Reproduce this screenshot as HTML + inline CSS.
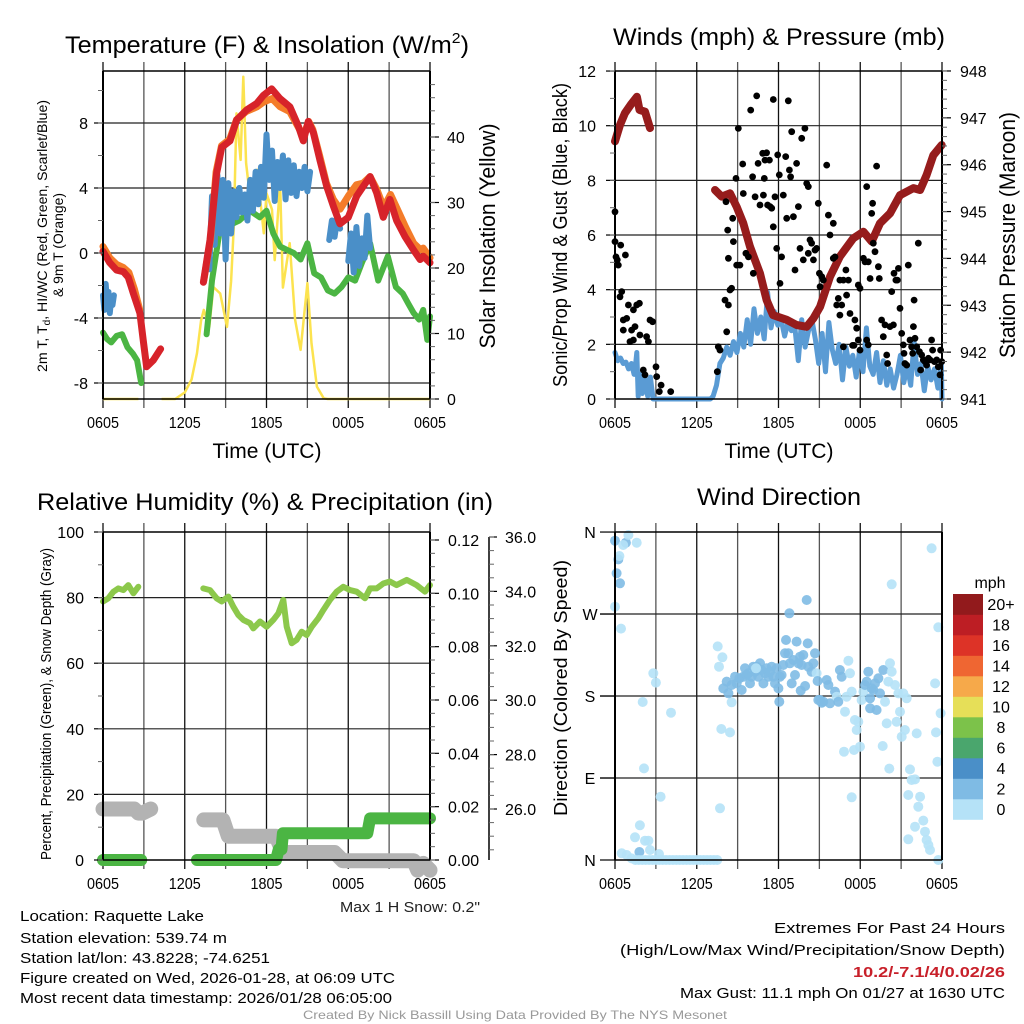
<!DOCTYPE html>
<html><head><meta charset="utf-8"><style>
html,body{margin:0;padding:0;background:#fff;}
svg{display:block;font-family:"Liberation Sans",sans-serif;}
</style></head><body>
<svg id="chart" width="1024" height="1024" viewBox="0 0 1024 1024" xmlns="http://www.w3.org/2000/svg">
<rect x="0" y="0" width="1024" height="1024" fill="#fff"/>
<g id="grids"></g>
<g id="marks"></g>
<g id="axes"></g>
<g id="texts" fill="#000">
<text x="267" y="53" font-size="24" text-anchor="middle" textLength="404" lengthAdjust="spacingAndGlyphs">Temperature (F) &amp; Insolation (W/m<tspan font-size="15" dy="-10">2</tspan><tspan dy="10">)</tspan></text>
<text x="779" y="45" font-size="24" text-anchor="middle" textLength="332" lengthAdjust="spacingAndGlyphs">Winds (mph) &amp; Pressure (mb)</text>
<text x="265" y="510" font-size="24" text-anchor="middle" textLength="456" lengthAdjust="spacingAndGlyphs">Relative Humidity (%) &amp; Precipitation (in)</text>
<text x="779" y="505" font-size="24" text-anchor="middle" textLength="164" lengthAdjust="spacingAndGlyphs">Wind Direction</text>
<text transform="translate(47,236) rotate(-90)" font-size="14" text-anchor="middle" textLength="272" lengthAdjust="spacingAndGlyphs">2m T, T<tspan font-size="10" dy="3">d</tspan><tspan dy="-3">, HI/WC (Red, Green, Scarlet/Blue)</tspan></text>
<text transform="translate(63,245) rotate(-90)" font-size="14" text-anchor="middle" textLength="104" lengthAdjust="spacingAndGlyphs">&amp; 9m T (Orange)</text>
<text transform="translate(495,236) rotate(-90)" font-size="22" text-anchor="middle" textLength="225" lengthAdjust="spacingAndGlyphs">Solar Insolation (Yellow)</text>
<text transform="translate(567,235) rotate(-90)" font-size="20" text-anchor="middle" textLength="304" lengthAdjust="spacingAndGlyphs">Sonic/Prop Wind &amp; Gust (Blue, Black)</text>
<text transform="translate(1015,235) rotate(-90)" font-size="22" text-anchor="middle" textLength="246" lengthAdjust="spacingAndGlyphs">Station Pressure (Maroon)</text>
<text transform="translate(51,704) rotate(-90)" font-size="15" text-anchor="middle" textLength="312" lengthAdjust="spacingAndGlyphs">Percent, Precipitation (Green), &amp; Snow Depth (Gray)</text>
<text transform="translate(567,688) rotate(-90)" font-size="18" text-anchor="middle" textLength="256" lengthAdjust="spacingAndGlyphs">Direction (Colored By Speed)</text>
<text x="267" y="458" font-size="21" text-anchor="middle" textLength="109" lengthAdjust="spacingAndGlyphs">Time (UTC)</text>
<text x="779" y="458" font-size="21" text-anchor="middle" textLength="109" lengthAdjust="spacingAndGlyphs">Time (UTC)</text>
<text x="480" y="912" font-size="15" text-anchor="end" textLength="140" lengthAdjust="spacingAndGlyphs" fill="#222">Max 1 H Snow: 0.2"</text>
<text x="20" y="921" font-size="15" textLength="184" lengthAdjust="spacingAndGlyphs">Location: Raquette Lake</text>
<text x="20" y="943" font-size="15" textLength="207" lengthAdjust="spacingAndGlyphs">Station elevation: 539.74 m</text>
<text x="20" y="963" font-size="15" textLength="250" lengthAdjust="spacingAndGlyphs">Station lat/lon: 43.8228; -74.6251</text>
<text x="20" y="983" font-size="15" textLength="375" lengthAdjust="spacingAndGlyphs">Figure created on Wed, 2026-01-28, at 06:09 UTC</text>
<text x="20" y="1003" font-size="15" textLength="372" lengthAdjust="spacingAndGlyphs">Most recent data timestamp: 2026/01/28 06:05:00</text>
<text x="1005" y="933" font-size="15" text-anchor="end" textLength="231" lengthAdjust="spacingAndGlyphs">Extremes For Past 24 Hours</text>
<text x="1005" y="955" font-size="15" text-anchor="end" textLength="385" lengthAdjust="spacingAndGlyphs">(High/Low/Max Wind/Precipitation/Snow Depth)</text>
<text x="1005" y="977" font-size="15" font-weight="bold" fill="#c8202a" text-anchor="end" textLength="152" lengthAdjust="spacingAndGlyphs">10.2/-7.1/4/0.02/26</text>
<text x="1005" y="998" font-size="15" text-anchor="end" textLength="325" lengthAdjust="spacingAndGlyphs">Max Gust: 11.1 mph On 01/27 at 1630 UTC</text>
<text x="515" y="1019" font-size="12" fill="#999" text-anchor="middle" textLength="424" lengthAdjust="spacingAndGlyphs">Created By Nick Bassill Using Data Provided By The NYS Mesonet</text>
<text x="990" y="588" font-size="16" text-anchor="middle">mph</text>
</g>
</svg>
<script>
// ---------- data ----------
const timeTickLabels = ["0605","1205","1805","0005","0605"];
const tempTicks = [-8,-4,0,4,8];
const solarTicks = [0,10,20,30,40];
const windTicks = [0,2,4,6,8,10,12];
const pressTicks = [941,942,943,944,945,946,947,948];
const rhTicks = [0,20,40,60,80,100];
const precipTicks = [0,0.02,0.04,0.06,0.08,0.10,0.12];
const snowTicks = [26,28,30,32,34,36];
const dirTicks = [0,90,180,270,360];
const dirTickLabels = ["N","E","S","W","N"];
const speedBins = ["0","2","4","6","8","10","12","14","16","18","20+"];

const redT = [0,0.5,1.0,1.5,1.86,2.23,2.71,2.96,3.2,3.69,4.23,5.5,7.37,7.85,8.34,8.71,9.32,9.81,10.54,11.28,11.77,12.38,12.99,13.72,14.34,14.7,15.07,15.44,15.93,16.42,16.9,17.39,18.0,18.62,19.1,19.6,20.09,20.57,21.06,21.55,22.17,22.78,23.27,23.51,24];
const redV = [0.1,-0.6,-1.05,-1.15,-1.5,-2.5,-3.7,-5.4,-7.0,-6.6,-5.9,null,-1.8,0.8,4.9,6.5,6.9,8.2,8.8,9.2,9.7,10.1,9.5,9.0,7.8,6.9,8.1,7.4,5.7,4.1,2.9,1.8,2.2,3.5,4.1,4.7,3.7,2.2,3.3,2.0,1.0,0.2,-0.4,-0.2,-0.6];
const orangeT = [0,0.5,1,1.5,1.9,2.3,2.7,5.5,7.4,7.9,8.3,8.7,9.3,9.8,10.5,11.3,11.8,12.4,13.0,13.7,14.3,14.7,15.1,15.4,15.9,16.4,16.9,17.4,18.0,18.6,19.1,19.6,20.1,20.6,21.1,21.6,22.2,22.8,23.3,23.5,24];
const orangeV = [0.4,-0.3,-0.7,-0.9,-1.2,-2.2,-3.5,null,-1.7,0.9,5.0,6.6,7.0,8.2,8.7,9.0,9.3,9.5,9.0,8.7,7.8,7.2,8.1,7.6,6.0,4.3,3.3,2.7,3.5,4.2,4.3,4.7,3.9,2.8,3.6,2.7,1.6,0.6,0.2,0.3,-0.3];
const blueT = [0,0.1,0.2,0.3,0.4,0.5,0.6,0.7,0.8,4,7.8,8.0,8.2,8.4,8.6,8.8,9.0,9.2,9.4,9.6,9.8,10.0,10.2,10.4,10.6,10.8,11.0,11.2,11.4,11.6,11.8,12.0,12.2,12.4,12.6,12.8,13.0,13.2,13.4,13.6,13.8,14.0,14.2,14.4,14.6,14.8,15.0,15.2,16,16.6,16.8,17.0,17.2,17.4,17.7,18.0,18.2,18.4,18.6,18.8,19.0,19.2,19.4,19.6];
const blueV = [-2.6,-3.5,-1.9,-3.3,-2.4,-3.7,-2.8,-3.2,-2.6,null,-1.0,3.5,0.5,4.8,1.2,4.5,-0.4,4.3,1.2,3.8,2.2,4.0,2.5,3.6,2.0,4.5,2.6,5.0,3.0,5.3,3.4,7.3,4.5,6.3,3.2,5.6,4.0,6.0,3.3,5.7,3.7,5.4,3.5,5.0,4.0,5.3,3.8,5.0,null,0.8,2.0,1.0,2.2,1.5,null,-0.5,1.2,-1.2,1.6,-0.8,0.9,-0.3,2.3,0.3];
const greenT = [0,0.3,0.6,1.0,1.4,1.8,2.2,2.5,2.8,5,7.6,8.0,8.6,9.0,9.5,10.0,10.8,11.5,12.0,12.5,13.0,13.5,14.0,14.5,15.0,15.5,16.0,16.5,17.0,17.5,18.0,18.5,19.0,19.6,20.2,20.9,21.5,22.0,22.4,22.8,23.2,23.5,23.8,24];
const greenV = [-4.9,-5.3,-5.5,-5.1,-5.0,-5.8,-6.2,-6.6,-8.0,null,-5.0,-1.7,1.6,2.0,1.8,2.0,2.6,2.2,2.6,1.2,0.4,0.2,0.0,-0.4,0.6,-1.25,-1.5,-2.3,-2.5,-2.1,-1.5,-1.7,-0.6,0.6,-1.7,-0.2,-2.1,-2.5,-3.1,-3.7,-4.1,-3.5,-5.35,-3.9];
const solarT = [0,2.6,3.5,4.3,5.3,6.0,6.5,6.9,7.2,7.4,7.8,8.1,8.6,9.1,9.4,9.6,9.8,10.1,10.3,10.5,10.9,11.3,11.8,12.0,12.4,12.6,13.0,13.2,13.7,14.1,14.5,15.0,15.3,15.7,16.2,16.5,24];
const solarV = [0,0,null,0,0,1,3,7,12,13.6,11,17.1,16.1,11.0,18,26.3,43.6,36.5,49.2,36,28.9,35,25.3,31.4,28.9,21.2,32.9,17,23.8,12.1,7.5,17.7,8.5,1.9,0.1,0,0];

const pressT = [0,0.37,0.73,1.2,1.61,1.8,2.2,2.57,5,7.34,7.83,8.44,8.93,9.42,9.91,10.64,11.13,11.6,12.6,13.33,14.07,14.56,15.05,15.78,16.51,17.49,18.23,18.84,19.45,20.18,20.92,21.9,22.39,22.87,23.36,23.98];
const pressV = [946.5,946.85,947.1,947.3,947.45,947.17,947.13,946.78,null,945.46,945.32,945.39,945.1,944.75,944.25,943.68,943.11,942.79,942.69,942.58,942.54,942.72,942.97,943.61,944.04,944.43,944.57,944.36,944.75,944.96,945.35,945.5,945.46,945.78,946.2,946.42];
const windT = [0,0.2,0.4,0.6,0.8,1.0,1.2,1.4,1.5,1.6,1.7,1.85,2.0,2.2,2.4,2.6,2.8,5,7.0,7.2,7.45,7.7,7.95,8.2,8.45,8.7,8.95,9.2,9.45,9.7,9.95,10.2,10.45,10.7,10.95,11.2,11.45,11.7,11.95,12.2,12.45,12.7,12.95,13.2,13.45,13.7,13.95,14.2,14.45,14.7,14.95,15.2,15.45,15.7,15.95,16.2,16.45,16.7,16.95,17.2,17.45,17.7,17.95,18.2,18.45,18.7,18.95,19.2,19.45,19.7,19.95,20.2,20.45,20.7,20.95,21.2,21.45,21.7,21.95,22.2,22.45,22.7,22.95,23.2,23.45,23.7,23.95,24];
const windV = [1.7,1.4,1.5,1.3,1.35,1.1,1.3,0.9,1.2,1.7,0.1,0.9,0.2,0.8,0.1,0.8,0,0,0,0.1,0.5,1.3,1.5,1.9,1.6,2.1,1.7,2.4,1.9,2.9,2.0,3.3,2.4,3.0,2.2,3.9,2.6,3.2,2.7,2.9,2.3,2.8,2.5,2.6,1.4,2.9,1.9,2.5,2.9,2.2,1.3,2.4,1.0,2.8,1.8,1.3,2.0,0.7,1.9,1.2,1.6,0.8,1.8,1.0,2.6,1.2,0.9,1.7,0.6,1.4,0.5,1.1,0.4,0.9,1.6,0.6,1.2,0.5,2.1,0.9,1.3,0.3,1.2,0.7,1.1,0.4,1.3,0];
const gustT = [0,0,0.07,0.17,0.24,0.42,0.76,0.37,0.49,0.61,0.86,0.98,0.61,1.22,1.35,1.59,1.79,1.47,1.1,1.35,1.83,2.32,2.45,2.57,2.76,2.08,2.2,3.01,3.06,3.25,3.38,4.09,7.51,7.58,7.71,8.07,8.2,8.44,8.32,8.56,8.69,8.93,8.32,8.15,8.27,8.64,8.88,9.05,9.17,9.37,9.42,9.61,9.79,9.96,10.1,10.15,10.28,10.4,10.5,10.64,10.84,10.89,10.96,11.01,11.13,11.2,11.33,11.38,11.5,11.62,11.62,11.74,11.87,11.94,12.06,12.11,12.23,12.35,12.53,12.6,12.72,12.8,12.89,12.97,13.09,13.21,13.33,13.46,13.58,13.7,13.82,13.94,14.07,14.19,14.19,14.31,14.43,14.56,14.68,14.8,14.92,15.0,15.05,15.17,15.29,15.54,15.66,15.78,16.02,16.02,16.15,16.27,16.39,16.51,16.64,16.76,17.0,16.95,17.13,16.51,16.76,17.25,17.44,17.54,17.61,17.74,17.86,17.98,17.86,17.98,18.23,18.35,18.47,18.59,18.72,18.47,18.59,18.84,18.91,18.96,19.08,19.2,19.33,19.4,19.57,19.69,19.82,19.94,20.01,20.18,20.43,20.31,20.48,20.62,20.72,20.8,20.92,21.04,21.16,21.21,21.28,21.41,21.53,21.65,21.77,21.9,21.85,21.95,22.02,22.14,22.26,22.34,22.51,22.43,22.63,22.75,22.87,23.0,23.12,23.24,23.31,23.44,23.61,23.73,23.85,23.98,23.9];
const gustV = [6.85,5.76,5.2,5.09,4.9,5.63,5.27,3.74,3.93,2.89,2.95,3.44,2.52,2.52,3.26,3.44,3.5,2.65,2.1,2.16,2.34,2.28,2.1,2.89,2.83,1.06,0.88,1.18,0.82,0.27,0.51,0.27,1.0,1.91,1.79,3.62,2.46,3.99,3.44,4.05,5.76,4.9,5.15,7.22,6.18,6.61,8.07,9.9,4.9,8.6,7.52,5.33,5.2,10.57,8.13,4.6,7.4,11.09,8.62,7.1,8.99,7.46,8.07,8.74,9.01,7.1,8.74,7.04,6.98,10.96,6.3,7.4,5.51,8.93,8.2,4.23,5.2,7.46,8.87,6.61,10.91,8.38,8.13,9.78,6.67,4.72,8.62,7.04,5.51,9.54,5.09,9.9,7.89,7.77,5.33,5.82,5.7,5.09,5.45,5.51,7.16,4.6,4.11,4.48,4.35,8.56,6.73,6.0,6.43,5.15,5.2,3.44,3.68,4.35,3.44,4.35,3.8,4.72,4.35,3.07,1.91,3.13,1.96,1.96,2.89,2.59,4.17,4.05,2.16,1.79,5.15,5.02,7.77,5.02,4.41,2.16,1.98,6.79,7.16,5.7,5.39,8.52,4.84,4.41,2.89,2.28,2.71,1.61,1.3,2.65,2.71,3.93,4.6,4.35,4.35,4.78,3.32,2.4,1.98,1.67,1.3,1.24,4.9,2.16,1.91,2.65,1.67,3.62,2.22,1.91,5.7,1.73,1.61,1.06,1.43,1.37,1.24,1.49,1.43,2.16,1.79,1.37,1.43,1.18,0.88,1.37,1.79];

const rhT = [0,0.39,0.76,1.13,1.49,1.86,2.23,2.59,5,7.36,7.85,8.34,8.71,9.2,9.57,9.93,10.3,10.79,11.03,11.52,12.01,12.5,12.87,13.23,13.48,13.85,14.21,14.58,14.95,15.32,15.8,16.17,16.66,17.15,17.64,18.13,18.62,19.23,19.6,20.09,20.57,21.06,21.55,22.29,23.02,23.63,24];
const rhV = [78.8,79.8,81.8,82.8,82.3,83.8,81.3,83.3,null,82.8,82.3,79.8,78.8,80.3,77.2,74.7,73.2,72.2,70.6,72.7,71.1,73.2,75.2,79.3,71.1,66.1,67.1,69.6,68.6,71.1,73.7,76.2,79.3,81.8,83.3,82.3,81.8,79.8,82.8,82.8,84.3,84.9,83.8,85.4,83.8,81.8,83.8];
const precipT = [0,2.8,4.5,6.9,12.7,12.9,13.1,13.2,19.4,19.6,24];
const precipV = [0,0,null,0,0,0.004,0.004,0.01,0.01,0.0156,0.0156];
const snowT = [0,2.3,2.6,2.9,3.5,5,7.4,8.8,9.2,12.7,13.2,17.0,17.6,22.8,23.1,23.5,24];
const snowV = [26.0,26.0,25.85,25.85,26.0,null,25.6,25.6,25.0,25.0,24.4,24.4,24.1,24.1,23.75,24.0,23.75];

const dirT = [0,0.24,0.12,0.37,0.8,0.6,0.98,1.59,0.32,0,0.44,2.81,3.0,2.03,2.13,4.11,3.35,7.71,7.54,7.88,7.63,7.8,8.44,8.56,0.49,0.86,1.22,1.47,1.83,2.2,2.45,2.57,1.79,3.23,1.5,1.75,2.0,2.25,2.5,2.75,3.0,3.25,3.5,3.75,4.0,4.25,4.5,4.75,5.0,5.25,5.5,5.75,6.0,6.25,6.5,6.75,7.0,7.25,7.5,7.95,8.2,8.32,8.56,8.81,8.93,9.13,9.3,9.42,9.54,9.66,9.79,9.91,10.03,10.15,10.28,10.4,10.52,10.64,10.76,10.89,11.01,11.13,11.25,11.38,11.5,11.62,11.74,11.87,11.99,12.06,12.11,12.23,12.35,12.48,12.55,12.72,12.8,12.84,12.97,13.09,13.21,13.33,13.46,13.58,13.63,13.7,13.82,13.95,14.07,14.14,14.19,14.43,14.56,14.68,14.8,14.87,14.92,15.05,15.17,15.29,15.54,15.66,15.78,16.15,16.27,16.39,16.51,16.64,16.88,17.0,17.13,17.25,17.37,17.61,17.74,17.86,17.98,18.1,18.23,18.35,18.47,18.59,18.72,18.84,18.72,18.96,19.08,19.2,19.33,19.45,19.69,19.82,19.94,20.06,20.18,20.31,20.55,20.67,20.8,20.92,21.04,21.16,21.28,21.41,22.14,23.24,20.31,23.73,23.49,23.9,23.56,23.66,20.13,19.65,16.81,17.54,17.37,21.65,21.77,22.02,21.53,22.39,22.26,22.63,22.02,22.75,22.87,23.0,23.12,21.53,23.73,10.35];
const dirV = [350.5,330,314.7,303.7,348.3,345.8,356.8,348.3,333.7,278,254,204.9,194.7,173.4,100.6,161.7,69.5,56.7,234.5,222.5,212.2,143.8,140.1,173.1,7.3,5.5,1.8,24.9,38.1,21.2,21.2,11,8.8,6.6,0,0,0,0,0,0,0,0,0,0,0,0,0,0,0,0,0,0,0,0,0,0,0,0,0,188.4,195.8,183,192.1,201.2,193.9,199.4,186.6,201.2,210.4,203.1,204.9,193.9,201.2,212.2,206.7,212.2,201.2,215.9,208.6,193.9,204.9,210.4,201.2,206.7,212.2,201.2,193.9,210.4,188.4,173.8,201.2,203.1,214,226.9,241.5,226.9,270.8,215.9,193.9,219.5,203.1,239.7,215.9,223.2,185.9,214,225,191,285.4,237.8,212.2,206.7,215.9,226.9,204.9,196.5,175.6,175.6,172.7,173.8,197.6,192.1,172,184.8,179.3,173.8,208.6,201.2,162.8,179.3,218.8,204.9,184.8,153.7,142.7,151.8,124.4,175.6,184.8,192.1,195.8,206.7,177.5,188.4,166.5,186.6,193.9,164.7,199.4,182.9,208.6,173.8,150,195.8,215.9,206.7,192.1,151.8,182.9,162.8,135.4,182.9,142.7,177.5,139,342.1,302.6,255.4,193.9,161,140.1,107.9,100.3,125.1,118.9,120.7,68.8,99.5,87.8,88.5,71.4,69.5,58.5,43.2,36.6,31.1,22,16.5,11,22.7,0,210.4];
const dirSpd = [3,3,3,3,3,1.5,1,1,1.5,1,1,1,1,1,1,1,1,1,1,1,1,1,1,1,1,1,1,1,1,1,1,1,3.5,1,0.5,0.5,0.5,0.5,0.5,0.5,0.5,0.5,0.5,0.5,0.5,0.5,0.5,0.5,0.5,0.5,0.5,0.5,0.5,0.5,0.5,0.5,0.5,0.5,0.5,3,3,3,3,3,3,3,3,3,3,3,3,3,3,3,3,3,3,3,3,3,3,3,3,3,3,3,3,3,3,3,3,3,3,3,3,3,3,3,3,3,3,3,3,3,3,3,3,3,3,3,3,3,3,3,1.5,3,3,3,3,3,3,3,3,3,1.5,3,3,3,1.5,1.5,1.5,1.5,1.5,1.5,1.5,1.5,1.5,1.5,1.5,3,3,3,3,3,3,3,3,3,3,3,3,1.5,1.5,1.5,1.5,1.5,1.5,1.5,1.5,1.5,1.5,1.5,1.5,1.5,1.5,1.5,1,1,1,1,1,1,1,1,1,1,1,1,1,1,1,1,1,1,1,1,1,1,1,1,1,1,1,1,1,1,1,1,1,1,1,1,4.5];

// ---------- scales ----------
const PX_H = 13.625;
function xL(t){ return 103 + t*PX_H; }
function xR(t){ return 615 + t*PX_H; }
function yTemp(v){ return 253 - 16.25*v; }
function ySolar(v){ return 399 - 6.55*v; }
function yWind(v){ return 399 - 27.33*v; }
function yPress(v){ return 399 - 46.86*(v-941); }
function yRH(v){ return 860 - 3.28*v; }
function yPrecip(v){ return 860 - 2666.7*v; }
function ySnow(v){ return 809 - 27.2*(v-26); }
function yDir(v){ return 860 - 0.911*v; }

const NS = "http://www.w3.org/2000/svg";
function mk(parent, tag, attrs, name){
  const el = document.createElementNS(NS, tag);
  for (const k in attrs) el.setAttribute(k, attrs[k]);
  
  
  parent.appendChild(el);
  return el;
}
function pathD(ts, vs, fx, fy){
  let d = "", pen = false;
  for (let i=0;i<ts.length;i++){
    if (vs[i]===null){ pen=false; continue; }
    d += (pen?"L":"M") + fx(ts[i]).toFixed(1) + " " + fy(vs[i]).toFixed(1);
    pen = true;
  }
  return d;
}
const grids = document.getElementById('grids');
const marks = document.getElementById('marks');
const axes = document.getElementById('axes');
const texts = document.getElementById('texts');

function txt(x,y,s,size,anchor,name){
  const el = mk(texts,'text',{x:x,y:y,'font-size':size,'text-anchor':anchor},name);
  el.textContent = s;
  return el;
}

function panel(x0,x1,y0,y1,prefix,fx){
  for (let h=0; h<=24; h+=3){
    const x = fx(h);
    mk(grids,'line',{x1:x,y1:y0-9,x2:x,y2:y1+9,stroke:(h%6===0?'#111':'#555'),'stroke-width':1.3},prefix+'-time-gridline');
  }
  for (let i=0;i<timeTickLabels.length;i++){
    const lbl = txt(fx(i*6), y1+29, timeTickLabels[i], 16, 'middle', prefix+'-time-tick-label');
    lbl.setAttribute('textLength', 32);
    lbl.setAttribute('lengthAdjust', 'spacingAndGlyphs');
  }
  mk(axes,'line',{x1:x0,y1:y0,x2:x1,y2:y0,stroke:'#000','stroke-width':1.5},prefix+'-top-border');
  mk(axes,'line',{x1:x0,y1:y1,x2:x1,y2:y1,stroke:'#000','stroke-width':1.5},prefix+'-bottom-border');
  mk(axes,'line',{x1:x0,y1:y0,x2:x0,y2:y1,stroke:'#000','stroke-width':2},prefix+'-left-axis');
  mk(axes,'line',{x1:x1,y1:y0,x2:x1,y2:y1,stroke:'#000','stroke-width':2},prefix+'-right-axis');
}
function hgrid(vals, fy, x0, x1, prefix){
  vals.forEach(v=>{ const y=fy(v);
    mk(grids,'line',{x1:x0,y1:y,x2:x1,y2:y,stroke:'#222','stroke-width':1.2},prefix+'-value-gridline');
  });
}
function leftTicks(vals, fy, x, labelX, prefix, fmt, minorStep, lo, hi){
  vals.forEach(v=>{ const y=fy(v);
    mk(axes,'line',{x1:x-9,y1:y,x2:x,y2:y,stroke:'#000','stroke-width':1.2},prefix+'-major-tick');
    txt(labelX, y+6, fmt(v), 16, 'end', prefix+'-tick-label');
  });
  for (let v=lo; v<=hi+1e-9; v+=minorStep){ const y=fy(v);
    mk(axes,'line',{x1:x-5,y1:y,x2:x,y2:y,stroke:'#666','stroke-width':1},prefix+'-minor-tick');
  }
}
function rightTicks(vals, fy, x, labelX, prefix, fmt, minorStep, lo, hi, fs){
  vals.forEach(v=>{ const y=fy(v);
    mk(axes,'line',{x1:x,y1:y,x2:x+9,y2:y,stroke:'#000','stroke-width':1.2},prefix+'-major-tick');
    txt(labelX, y+6, fmt(v), fs||16, 'start', prefix+'-tick-label');
  });
  for (let v=lo; v<=hi+1e-9; v+=minorStep){ const y=fy(v);
    mk(axes,'line',{x1:x,y1:y,x2:x+5,y2:y,stroke:'#666','stroke-width':1},prefix+'-minor-tick');
  }
}

panel(103,430,71,399,'temp',xL);
hgrid(tempTicks, yTemp, 103, 430, 'temp');
leftTicks(tempTicks, yTemp, 103, 88, 'temp', v=>String(v), 2, -8, 10);
rightTicks(solarTicks, ySolar, 430, 447, 'solar', v=>String(v), 2, 0, 48);
panel(615,942,71,399,'wind',xR);
hgrid([2,4,6,8,10], yWind, 615, 942, 'wind');
leftTicks(windTicks, yWind, 615, 596, 'wind', v=>String(v), 1, 0, 12);
rightTicks(pressTicks, yPress, 942, 960, 'pressure', v=>String(v), 0.2, 941, 948);
panel(103,430,532,860,'rh',xL);
hgrid([20,40,60,80], yRH, 103, 430, 'rh');
leftTicks(rhTicks, yRH, 103, 84, 'rh', v=>String(v), 10, 0, 100);
rightTicks(precipTicks, yPrecip, 430, 448, 'precip', v=>v.toFixed(2), 0.005, 0, 0.12);
mk(axes,'line',{x1:489,y1:537,x2:489,y2:860,stroke:'#000','stroke-width':1.5},'snow-axis');
snowTicks.forEach(v=>{ const y=ySnow(v);
  mk(axes,'line',{x1:489,y1:y,x2:497,y2:y,stroke:'#000','stroke-width':1.2},'snow-major-tick');
  txt(505, y+6, v.toFixed(1), 16, 'start', 'snow-tick-label');
});
for (let v=23; v<=36.01; v+=0.5){ const y=ySnow(v); if (y<=860)
  mk(axes,'line',{x1:489,y1:y,x2:494,y2:y,stroke:'#666','stroke-width':1},'snow-minor-tick');
}
panel(615,942,532,860,'dir',xR);
hgrid([90,180,270], yDir, 600, 942, 'dir');
dirTicks.forEach((v,i)=>{ const y=yDir(v);
  mk(axes,'line',{x1:600,y1:y,x2:615,y2:y,stroke:'#000','stroke-width':1.2},'dir-major-tick');
  txt(590, y+6, dirTickLabels[i], 16, 'middle', 'dir-tick-label');
});

// ---------- series ----------
mk(marks,'path',{d:pathD(solarT,solarV,xL,ySolar),fill:'none',stroke:'#fce34f','stroke-width':2.5,'stroke-linejoin':'round'},'solar-insolation-line');
mk(marks,'path',{d:pathD(greenT,greenV,xL,yTemp),fill:'none',stroke:'#4bb543','stroke-width':6,'stroke-linejoin':'round','stroke-linecap':'round'},'dewpoint-line');
mk(marks,'path',{d:pathD(blueT,blueV,xL,yTemp),fill:'none',stroke:'#4a8fc8','stroke-width':6,'stroke-linejoin':'round','stroke-linecap':'round'},'heat-index-wind-chill-line');
mk(marks,'path',{d:pathD(orangeT,orangeV,xL,yTemp),fill:'none',stroke:'#f47c2a','stroke-width':7,'stroke-linejoin':'round','stroke-linecap':'round'},'temp-9m-line');
mk(marks,'path',{d:pathD(redT,redV,xL,yTemp),fill:'none',stroke:'#d7232a','stroke-width':7,'stroke-linejoin':'round','stroke-linecap':'round'},'temp-2m-line');

mk(marks,'path',{d:pathD(windT,windV,xR,yWind),fill:'none',stroke:'#5a9bd4','stroke-width':5,'stroke-linejoin':'round','stroke-linecap':'round'},'sonic-wind-line');
mk(marks,'path',{d:pathD(pressT,pressV,xR,yPress),fill:'none',stroke:'#961c1c','stroke-width':8,'stroke-linejoin':'round','stroke-linecap':'round'},'pressure-line');
for (let i=0;i<gustT.length;i++){
  mk(marks,'circle',{cx:xR(gustT[i]).toFixed(1),cy:yWind(gustV[i]).toFixed(1),r:3.4,fill:'#000'},'gust-point');
}

mk(marks,'path',{d:pathD(snowT,snowV,xL,ySnow),fill:'none',stroke:'#b3b3b3','stroke-width':15,'stroke-linejoin':'round','stroke-linecap':'round'},'snow-depth-line');
mk(marks,'path',{d:pathD(precipT,precipV,xL,yPrecip),fill:'none',stroke:'#4bb543','stroke-width':12,'stroke-linejoin':'round','stroke-linecap':'round'},'precipitation-line');
mk(marks,'path',{d:pathD(rhT,rhV,xL,yRH),fill:'none',stroke:'#8cc84b','stroke-width':6,'stroke-linejoin':'round','stroke-linecap':'round'},'relative-humidity-line');

const binColors = ["#b5e2f7","#7fbbe4","#4a8fc8","#4aa66d","#7cc24a","#e6df58","#f6a94a","#ef6632","#dd3327","#bd1e24","#921a1c"];
function speedColor(s){ const k=Math.min(10,Math.floor(s/2)); return binColors[k]; }
for (let i=0;i<dirT.length;i++){
  mk(marks,'circle',{cx:xR(dirT[i]).toFixed(1),cy:yDir(dirV[i]).toFixed(1),r:5,fill:speedColor(dirSpd[i]),'fill-opacity':0.9},'direction-point');
}

const cb = mk(document.getElementById('chart'),'g',{},'speed-colorbar');
for (let k=0;k<speedBins.length;k++){
  const y = 594 + (10-k)*20.5;
  mk(cb,'rect',{x:953,y:y.toFixed(1),width:30,height:20.8,fill:binColors[k]},'colorbar-swatch');
  const t = mk(cb,'text',{x:1001,y:(y+16).toFixed(1),'font-size':16,'text-anchor':'middle'},'colorbar-label');
  t.textContent = speedBins[k];
}
</script>
</body></html>
